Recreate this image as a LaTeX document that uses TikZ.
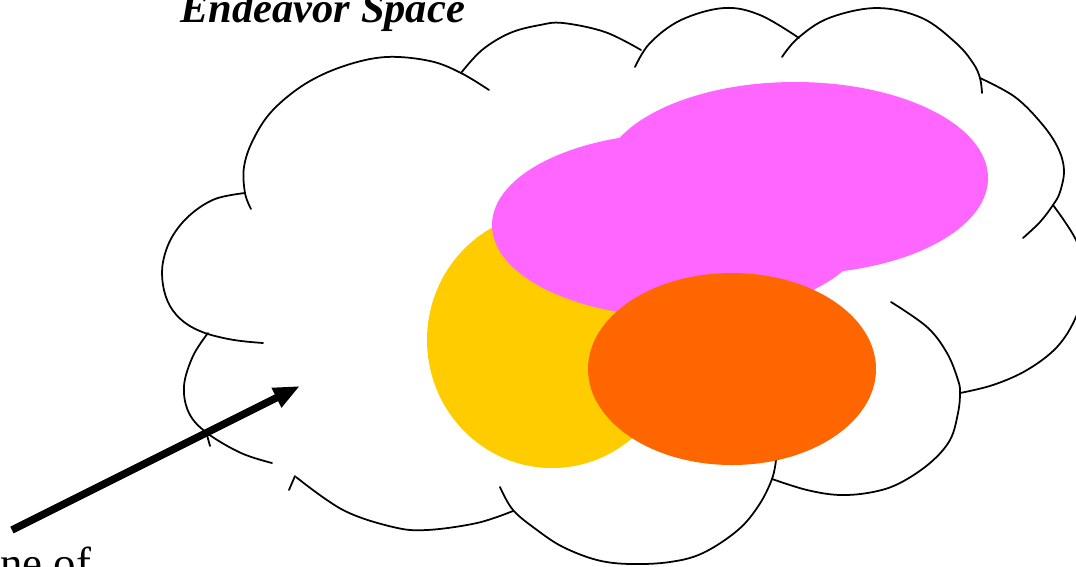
\documentclass[tikz,border=0pt]{standalone}
\usepackage{fontspec}
\setmainfont{Liberation Serif}
\usetikzlibrary{arrows.meta}
\definecolor{pinkfill}{HTML}{FF66FF}
\definecolor{yellowfill}{HTML}{FFCC00}
\definecolor{orangefill}{HTML}{FF6600}
\tikzset{
  cloudline/.style={draw=black, line width=1pt, line cap=round},
  bigarrow/.style={line width=4.3pt, -{Triangle[length=15pt,width=11.5pt]}},
  titletext/.style={anchor=base west, inner sep=0pt, font=\fontsize{24.2}{29}\selectfont\bfseries\itshape},
  bodytext/.style={anchor=base west, inner sep=0pt, font=\fontsize{25.5}{30}\selectfont}
}
\begin{document}
\begin{tikzpicture}[x=0.02cm, y=-0.02cm]
\useasboundingbox (0,0) rectangle (1076,566);

% ---- cloud outline (bumps) ----
\draw[cloudline] plot[smooth, tension=0.6] coordinates {(245,193) (215,199) (190,215) (172,237) (163,262) (163,285) (170,306) (184,322) (205,333) (234,340) (263,343)};
\draw[cloudline] plot[smooth, tension=0.6] coordinates {(251,209) (245,193) (244,167) (253,140) (272,111) (305,84) (344,66) (386,57) (430,61) (461,73) (489,90)};
\draw[cloudline] plot[smooth, tension=0.6] coordinates {(461,73) (482,50) (510,33) (540,25) (563,23) (605,32) (641,50)};
\draw[cloudline] plot[smooth, tension=0.6] coordinates {(635,67) (650,43) (681,20) (724,8) (760,15) (799,38)};
\draw[cloudline] plot[smooth, tension=0.6] coordinates {(782,57) (798,38) (829,18) (877,8) (922,18) (956,43) (973,63) (980,78) (982,93)};
\draw[cloudline] plot[smooth, tension=0.6] coordinates {(980,78) (1015,97) (1042,124) (1058,148) (1064,170) (1060,192) (1053,205) (1040,222) (1023,238)};
\draw[cloudline] plot[smooth, tension=0.6] coordinates {(1053,205) (1076,240) (1088,278) (1076,317) (1057,347) (1027,370) (993,385) (960,393)};
\draw[cloudline] plot[smooth, tension=0.6] coordinates {(891,302) (927,327) (947,353) (958,380) (960,393) (958,413) (950,440) (930,463) (900,483) (873,492) (840,495) (807,490) (772,479)};
\draw[cloudline] plot[smooth, tension=0.6] coordinates {(776,460) (772,479) (759,505) (738,530) (703,553) (670,562) (630,564) (597,560) (563,547) (537,530) (513,510) (500,487)};
\draw[cloudline] plot[smooth, tension=0.6] coordinates {(296,477) (343,510) (393,527) (427,530) (477,523) (513,511)};
\draw[cloudline] (289,490) -- (295,476);
\draw[cloudline] plot[smooth, tension=0.6] coordinates {(208,333) (193,356) (184,386) (189,413) (207,433) (241,453) (272,463)};
\draw[cloudline] (207,435) -- (210,446);

% ---- coloured areas ----
\fill[yellowfill] (552,340) ellipse [x radius=125, y radius=128];
\fill[pinkfill] (680,225) ellipse [x radius=188, y radius=92];
\fill[pinkfill] (795,178) ellipse [x radius=193, y radius=96];
\fill[orangefill] (732,369) ellipse [x radius=144, y radius=96];

% ---- arrow ----
\coordinate (tail) at (12,530);
\coordinate (tip) at (300,386);
\draw[bigarrow] (tail) -- (tip);

% ---- texts ----
\node[titletext] (title) at (180,22) {Endeavor Space};
\node[bodytext] (zone) at (0,578) {ne of};
\end{tikzpicture}
\end{document}
